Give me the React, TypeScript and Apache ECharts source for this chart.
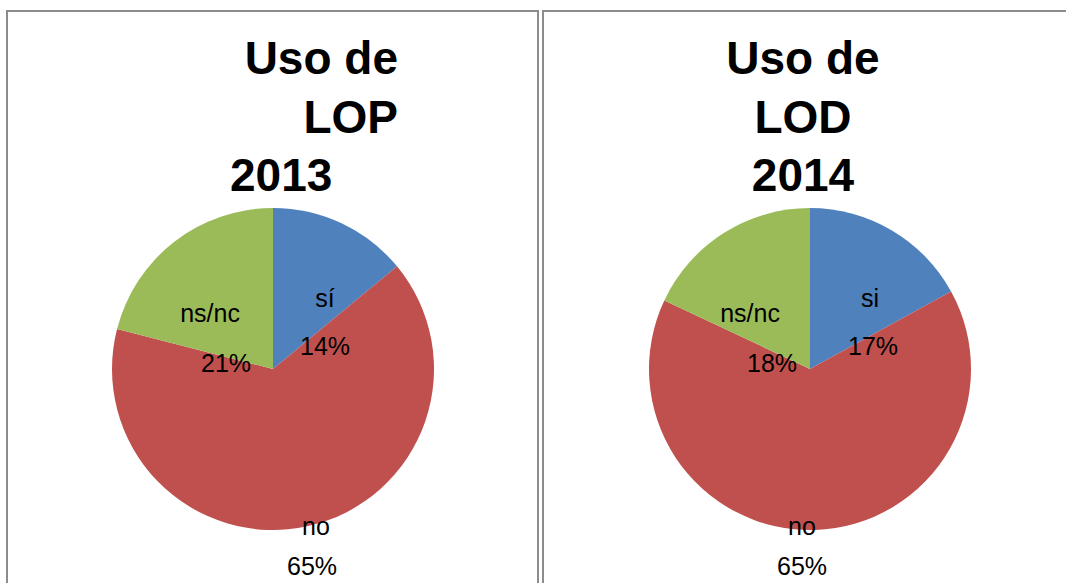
import React, { useEffect, useRef } from "react";
import * as echarts from "echarts";

// ---- data ----
const TITLE_2013 = ["Uso de", "LOP", "2013"];
const TITLE_2014 = ["Uso de", "LOD", "2014"];
const CATEGORIES_2013 = ["sí", "no", "ns/nc"];
const VALUES_2013 = [14, 65, 21];
const CATEGORIES_2014 = ["si", "no", "ns/nc"];
const VALUES_2014 = [17, 65, 18];

// ---- layout / style (kept apart from data) ----
const COLORS = ["#4F81BD", "#C0504D", "#9BBB59"];
const FONT = "Liberation Sans, Arial, sans-serif";
const PIE_RADIUS = 161;
const CENTER_2013 = [273, 369];
const CENTER_2014 = [810, 369];
// label block centres [x, y], shift of the percent line (px, +right), line height
const LABEL_2013 = [
  { x: 325, y: 322, shift: 0, lh: 48 },
  { x: 316, y: 546, shift: -4, lh: 40 },
  { x: 210, y: 338, shift: 16, lh: 50 },
];
const LABEL_2014 = [
  { x: 870, y: 322, shift: 3, lh: 48 },
  { x: 802, y: 546, shift: 0, lh: 40 },
  { x: 750, y: 338, shift: 22, lh: 50 },
];

function buildSeries(
  names: string[],
  values: number[],
  center: number[],
  labels: { x: number; y: number; shift: number; lh: number }[]
) {
  const total = values.reduce((a, b) => a + b, 0);
  return {
    type: "pie",
    radius: PIE_RADIUS,
    center,
    startAngle: 90,
    clockwise: true,
    silent: true,
    avoidLabelOverlap: false,
    labelLine: { show: false },
    itemStyle: { borderWidth: 0 },
    data: names.map((n, i) => {
      const L = labels[i];
      const pad = L.shift >= 0 ? [0, 0, 0, L.shift * 2] : [0, -L.shift * 2, 0, 0];
      return {
        name: n,
        value: values[i],
        itemStyle: { color: COLORS[i] },
        label: {
          show: true,
          position: "inside",
          formatter: (p: any) =>
            `{n|${p.name}}\n{p|${Math.round((p.value / total) * 100)}%}`,
          rich: {
            n: { fontSize: 25, fontFamily: FONT, color: "#000", lineHeight: L.lh },
            p: { fontSize: 25, fontFamily: FONT, color: "#000", lineHeight: L.lh, padding: pad },
          },
        },
      };
    }),
    labelLayout: (params: any) => {
      const L = labels[params.dataIndex];
      return { x: L.x, y: L.y, align: "center", verticalAlign: "middle" };
    },
  };
}

function titleTexts(lines: string[], pos: { x: number; y: number; align: string }[]) {
  return lines.map((t, i) => ({
    type: "text",
    x: pos[i].x,
    y: pos[i].y,
    silent: true,
    style: {
      text: t,
      fill: "#000",
      font: `bold 46px ${FONT}`,
      textAlign: pos[i].align,
      textVerticalAlign: "middle",
    },
  }));
}

export default function App() {
  const ref = useRef<HTMLDivElement>(null);
  useEffect(() => {
    if (!ref.current) return;
    const chart = echarts.init(ref.current, undefined, { renderer: "svg" });
    chart.setOption({
      animation: false,
      backgroundColor: "#ffffff",
      series: [
        buildSeries(CATEGORIES_2013, VALUES_2013, CENTER_2013, LABEL_2013),
        buildSeries(CATEGORIES_2014, VALUES_2014, CENTER_2014, LABEL_2014),
      ],
      graphic: [
        {
          type: "rect",
          silent: true,
          shape: { x: 7, y: 11, width: 531, height: 620 },
          style: { fill: "none", stroke: "#8c8c8c", lineWidth: 2 },
        },
        {
          type: "rect",
          silent: true,
          shape: { x: 543, y: 11, width: 620, height: 620 },
          style: { fill: "none", stroke: "#8c8c8c", lineWidth: 2 },
        },
        ...titleTexts(TITLE_2013, [
          { x: 398, y: 58, align: "right" },
          { x: 398, y: 117, align: "right" },
          { x: 230, y: 175, align: "left" },
        ]),
        ...titleTexts(TITLE_2014, [
          { x: 803, y: 58, align: "center" },
          { x: 803, y: 117, align: "center" },
          { x: 803, y: 175, align: "center" },
        ]),
      ],
    });
    return () => chart.dispose();
  }, []);
  return (
    <div
      ref={ref}
      style={{ position: "fixed", left: 0, top: 0, width: 1066, height: 583 }}
    />
  );
}
